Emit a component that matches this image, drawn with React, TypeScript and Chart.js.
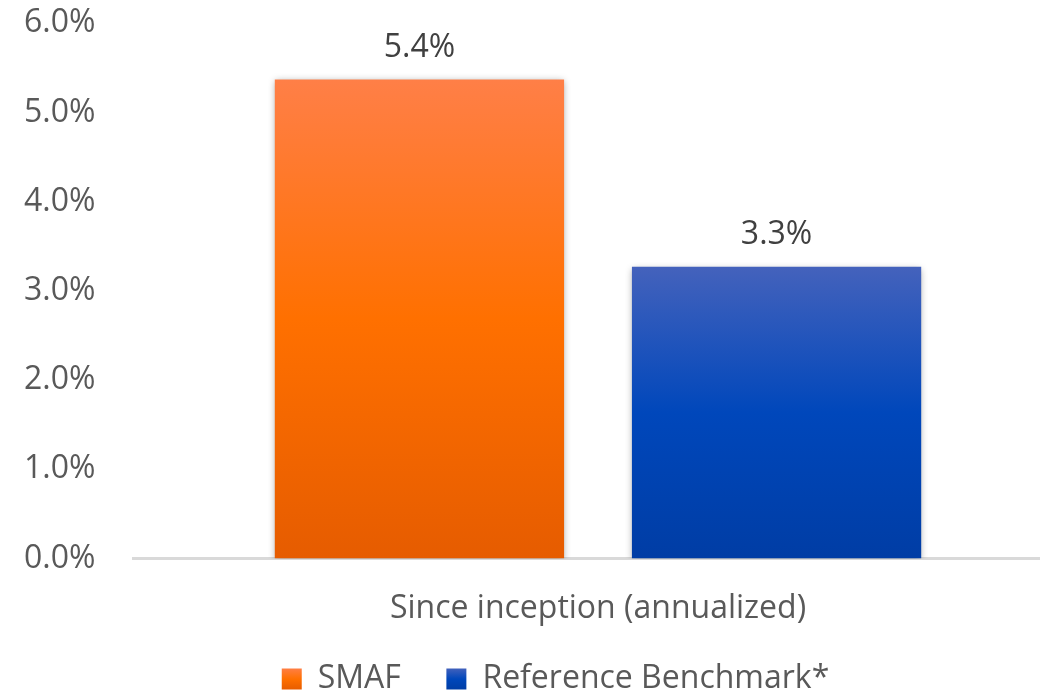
import React, { useEffect, useRef } from "react";
import { Chart, registerables } from "chart.js";

Chart.register(...registerables);

const categories = ["Since inception (annualized)"];
const seriesNames = ["SMAF", "Reference Benchmark*"];
const smafValues = [5.37];
const benchmarkValues = [3.27];
const dataLabels = ["5.4%", "3.3%"];
const yTicks = [0, 1, 2, 3, 4, 5, 6];

const orangeStops = ["#FF7F47", "#FF7000", "#E65C00"];
const blueStops = ["#4462BC", "#0047BB", "#003DA5"];

const FONT = "'Open Sans', sans-serif";
const TEXT = "#595959";

function gradientFor(stops: string[]) {
  return (ctx: any) => {
    const chart = ctx.chart;
    const y = chart.scales && chart.scales.y;
    if (!y || ctx.parsed === undefined) return stops[1];
    const top = y.getPixelForValue(ctx.parsed.y);
    const bottom = y.getPixelForValue(0);
    if (!isFinite(top) || !isFinite(bottom) || top === bottom) return stops[1];
    const g = chart.ctx.createLinearGradient(0, top, 0, bottom);
    g.addColorStop(0, stops[0]);
    g.addColorStop(0.5, stops[1]);
    g.addColorStop(1, stops[2]);
    return g;
  };
}

const shadowPlugin = {
  id: "barShadow",
  beforeDatasetDraw(chart: any) {
    const c = chart.ctx;
    c.save();
    c.shadowColor = "rgba(0,0,0,0.35)";
    c.shadowBlur = 7;
    c.shadowOffsetX = 0;
    c.shadowOffsetY = 2;
  },
  afterDatasetDraw(chart: any) {
    chart.ctx.restore();
  },
};

const labelPlugin = {
  id: "barLabels",
  afterDatasetsDraw(chart: any) {
    const c = chart.ctx;
    c.save();
    c.font = `32px ${FONT}`;
    c.fillStyle = "#404040";
    c.textAlign = "center";
    c.textBaseline = "middle";
    chart.data.datasets.forEach((ds: any, di: number) => {
      const meta = chart.getDatasetMeta(di);
      meta.data.forEach((el: any) => {
        c.fillText(dataLabels[di], el.x, el.y - 32);
      });
    });
    c.restore();
  },
};

// shift the legend block slightly right, as in the reference
const legendShiftPlugin = {
  id: "legendShift",
  afterLayout(chart: any) {
    const lg = chart.legend;
    if (!lg) return;
    const d = 12;
    lg.left += d;
    lg.right += d;
  },
};

export default function App() {
  const ref = useRef<HTMLCanvasElement | null>(null);

  useEffect(() => {
    document.body.style.margin = "0";
    document.documentElement.style.overflow = "hidden";
    document.body.style.overflow = "hidden";
    if (!ref.current) return;
    const chart = new Chart(ref.current, {
      type: "bar",
      data: {
        labels: categories,
        datasets: [
          {
            label: seriesNames[0],
            data: smafValues,
            backgroundColor: gradientFor(orangeStops),
            borderWidth: 0,
          },
          {
            label: seriesNames[1],
            data: benchmarkValues,
            backgroundColor: gradientFor(blueStops),
            borderWidth: 0,
          },
        ],
      },
      options: {
        animation: false,
        responsive: true,
        maintainAspectRatio: false,
        datasets: {
          bar: { categoryPercentage: 0.768, barPercentage: 0.81 },
        },
        layout: { padding: { left: 24, top: 0, right: 0, bottom: 0 } },
        scales: {
          x: {
            grid: { display: false, drawTicks: false },
            border: { display: true, color: "#D9D9D9", width: 3 },
            ticks: {
              font: { family: FONT, size: 32 },
              color: TEXT,
              padding: 31,
            },
          },
          y: {
            min: 0,
            max: 6,
            afterBuildTicks: (axis: any) => {
              axis.ticks = yTicks.map((v) => ({ value: v }));
            },
            afterFit: (axis: any) => {
              axis.width = 109;
            },
            grid: { display: false, drawTicks: false },
            border: { display: false },
            ticks: {
              font: { family: FONT, size: 32 },
              color: TEXT,
              padding: 4,
              crossAlign: "far",
              callback: (v: any) => Number(v).toFixed(1) + "%",
            },
          },
        },
        plugins: {
          tooltip: { enabled: false },
          legend: {
            position: "bottom",
            labels: {
              font: { family: FONT, size: 32 },
              color: TEXT,
              boxWidth: 20,
              boxHeight: 21,
              padding: 4,
              generateLabels: (chart: any) => {
                const cy = chart.height - 26;
                return chart.data.datasets.map((ds: any, i: number) => {
                  const stops = i === 0 ? orangeStops : blueStops;
                  const g = chart.ctx.createLinearGradient(0, cy - 11, 0, cy + 11);
                  g.addColorStop(0, stops[0]);
                  g.addColorStop(0.5, stops[1]);
                  g.addColorStop(1, stops[2]);
                  return {
                    text: i === 0 ? ds.label + "     " : ds.label,
                    fillStyle: g,
                    strokeStyle: "rgba(0,0,0,0)",
                    lineWidth: 0,
                    fontColor: TEXT,
                    hidden: false,
                    datasetIndex: i,
                  };
                });
              },
            },
          },
        },
      },
      plugins: [shadowPlugin, labelPlugin, legendShiftPlugin],
    } as any);
    return () => chart.destroy();
  }, []);

  return (
    <div style={{ position: "relative", width: 1063, height: 705 }}>
      <canvas ref={ref} />
    </div>
  );
}
